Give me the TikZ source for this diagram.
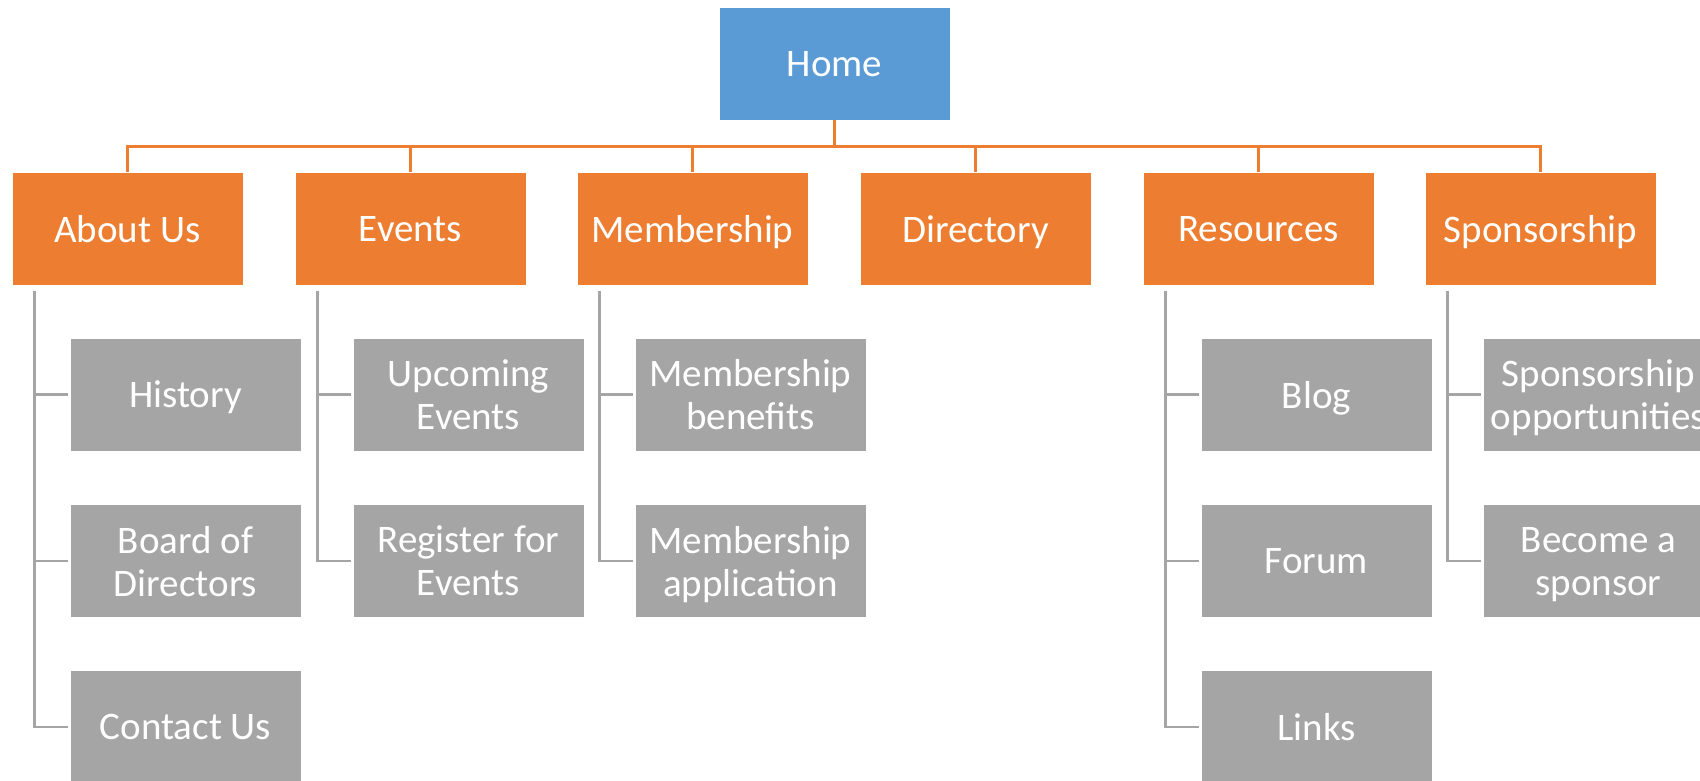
\documentclass[tikz,border=0pt]{standalone}
\usepackage{fontspec}
\setmainfont{Carlito}
\usepackage{tikz}
\definecolor{homeblue}{HTML}{5B9BD5}
\definecolor{toporange}{HTML}{ED7D31}
\definecolor{subgray}{HTML}{A5A5A5}

\begin{document}
\begin{tikzpicture}[x=1pt,y=-1pt,
  box/.style={minimum width=231pt,minimum height=113pt,inner sep=0pt,align=center,text depth=0pt,text=white,font=\fontsize{39}{43}\selectfont,draw=white,line width=0.8pt},
  homebox/.style={box,fill=homeblue},
  topbox/.style={box,fill=toporange},
  subbox/.style={box,fill=subgray},
  orgline/.style={toporange,line width=2.5pt},
  grayline/.style={subgray,line width=2.5pt}]
\useasboundingbox (0,0) rectangle (1700,781);
\clip (0,0) rectangle (1700,781);
\node[homebox] (home) at (834.5,63.5) {Home};
\node[topbox] (about) at (127.5,229) {About Us};
\node[topbox] (events) at (410.5,229) {Events};
\node[topbox] (membership) at (692.5,229) {Membership};
\node[topbox] (directory) at (975.5,229) {Directory};
\node[topbox] (resources) at (1258.5,229) {Resources};
\node[topbox] (sponsorship) at (1540.5,229) {Sponsorship};
\node[subbox] (history) at (185.5,394.5) {History};
\node[subbox] (board) at (185.5,561) {Board of\\Directors};
\node[subbox] (contact) at (185.5,727) {Contact Us};
\node[subbox] (upcoming) at (468.5,394.5) {Upcoming\\Events};
\node[subbox] (register) at (468.5,561) {Register for\\Events};
\node[subbox] (benefits) at (750.5,394.5) {Membership\\benefits};
\node[subbox] (application) at (750.5,561) {Membership\\application};
\node[subbox] (blog) at (1316.5,394.5) {Blog};
\node[subbox] (forum) at (1316.5,561) {Forum};
\node[subbox] (links) at (1316.5,727) {Links};
\node[subbox] (opportunities) at (1598.5,394.5) {Sponsorship\\opportunities};
\node[subbox] (become) at (1598.5,561) {Become a\\sponsor};
\foreach \t in {about,events,membership,directory,resources,sponsorship}
  \draw[orgline] (home.south) -- ++(0,26) -| (\t.north);
\foreach \p/\c in {about/history,about/board,about/contact,events/upcoming,events/register,membership/benefits,membership/application,resources/blog,resources/forum,resources/links,sponsorship/opportunities,sponsorship/become}
  \draw[grayline] ([xshift=23pt,yshift=-5pt]\p.south west) |- ([xshift=-2pt]\c.west);
\end{tikzpicture}
\end{document}
